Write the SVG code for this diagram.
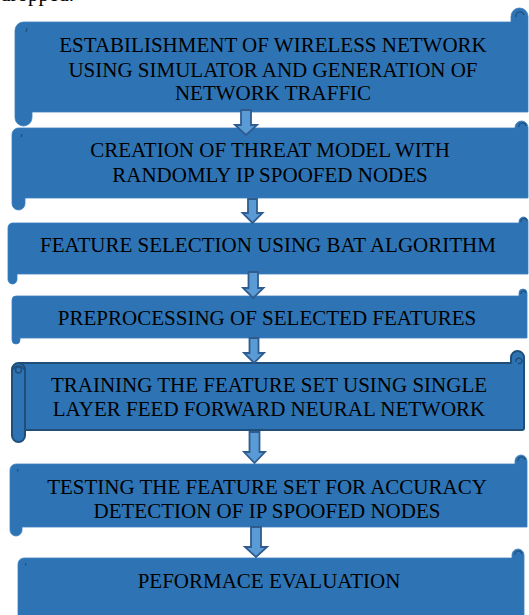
<svg xmlns="http://www.w3.org/2000/svg" width="529" height="615" viewBox="0 0 529 615">
<style>
.box{fill:#2E74B5;stroke:#3A7FC0;stroke-width:0.8}
.curl{fill:none;stroke:#1F4E79;stroke-width:1.2}
.lbl{font-family:"Liberation Serif","Times New Roman",serif;font-size:21px;fill:#000;text-anchor:middle}
.arrow{fill:#5B9BD5;stroke:#2F5C8F;stroke-width:1.8;stroke-linejoin:miter}
</style>
<rect width="529" height="615" fill="#fff"/>
<text x="0" y="1" style="font-family:'Liberation Serif',serif;font-size:21px;fill:#000">dropped.</text>

<g id="node1">
<path class="box" d="M15,30.5 A8.5,8.5 0 0 1 23.5,22 H511 V16.5 A8.5,8.5 0 0 1 528,16.5 V112 H32 V117.5 A8.5,8.5 0 0 1 15,117.5 Z"/>
<path class="curl" d="M516,17 A4,4 0 0 1 524,15"/>
<path class="curl" d="M27,28 l-1,4"/>
<text class="lbl" x="273" y="52">ESTABILISHMENT OF WIRELESS NETWORK</text>
<text class="lbl" x="273" y="77">USING SIMULATOR AND GENERATION OF</text>
<text class="lbl" x="273" y="100">NETWORK TRAFFIC</text>
</g>

<g id="node2">
<path class="box" d="M12,134.5 A6.5,6.5 0 0 1 18.5,128 H515 V127.5 A6.5,6.5 0 0 1 528,127.5 V198 H25 V203.5 A6.5,6.5 0 0 1 12,203.5 Z"/>
<path class="curl" d="M519,127 A3.5,3.5 0 0 1 526,126"/>
<path class="curl" d="M22,134 l-0.8,3"/>
<text class="lbl" x="270" y="157">CREATION OF THREAT MODEL WITH</text>
<text class="lbl" x="270" y="182">RANDOMLY IP SPOOFED NODES</text>
</g>

<g id="node3">
<path class="box" d="M8,227.5 A4.5,4.5 0 0 1 12.5,223 H519 V221.5 A4.5,4.5 0 0 1 528,221.5 V274 H17 V279.5 A4.5,4.5 0 0 1 8,279.5 Z"/>
<path class="curl" d="M521,222 A3,3 0 0 1 527,221"/>
<text class="lbl" x="268" y="252">FEATURE SELECTION USING BAT ALGORITHM</text>
</g>

<g id="node4">
<path class="box" d="M12,300 A4,4 0 0 1 16,296 H519 V293 A4,4 0 0 1 527,293 V338 H20 V340 A4,4 0 0 1 12,340 Z"/>
<path class="curl" d="M521,294 A2.5,2.5 0 0 1 526,293"/>
<text class="lbl" x="267" y="325">PREPROCESSING OF SELECTED FEATURES</text>
</g>

<g id="node5">
<rect x="18" y="363" width="506" height="67" rx="2" fill="#2E74B5" stroke="#1F4E79" stroke-width="2"/>
<path d="M511,363 V357.5 A6.5,6.5 0 0 1 524,357.5 V370" fill="#2E74B5" stroke="#1F4E79" stroke-width="2"/>
<path d="M516,362 A3,3 0 0 1 521,359 A2,2 0 0 1 518,363" fill="none" stroke="#1F4E79" stroke-width="1.5"/>
<rect x="12" y="363" width="13" height="79" rx="6.5" fill="#2E74B5" stroke="#1F4E79" stroke-width="2"/>
<path d="M13,369.5 A6,6 0 0 1 24,369.5" fill="none" stroke="#1F4E79" stroke-width="1.5"/>
<circle cx="18.5" cy="370" r="3" fill="none" stroke="#1F4E79" stroke-width="1.5"/>
<text class="lbl" x="269" y="392">TRAINING THE FEATURE SET USING SINGLE</text>
<text class="lbl" x="269" y="416">LAYER FEED FORWARD NEURAL NETWORK</text>
</g>

<g id="node6">
<path class="box" d="M10,470 A6,6 0 0 1 16,464 H515 V461 A6,6 0 0 1 527,461 V527 H22 V530 A6,6 0 0 1 10,530 Z"/>
<path class="curl" d="M518,461 A3.5,3.5 0 0 1 525,460"/>
<path class="curl" d="M18,469 l-0.6,2.5"/>
<text class="lbl" x="267" y="494">TESTING THE FEATURE SET FOR ACCURACY</text>
<text class="lbl" x="267" y="518">DETECTION OF IP SPOOFED NODES</text>
</g>

<g id="node7">
<path class="box" d="M18,564 A6,6 0 0 1 24,558 H512 V555 A6,6 0 0 1 524,555 V616 H18 Z"/>
<path class="curl" d="M515,555 A3.5,3.5 0 0 1 522,554"/>
<path class="curl" d="M26,563 l-0.6,2.5"/>
<text class="lbl" x="269" y="588">PEFORMACE EVALUATION</text>
</g>

<g id="connectors">
<path class="arrow" d="M241,110 H251 V125 H257 L246,135 L235,125 H241 Z"/>
<path class="arrow" d="M248,199 H257 V213 H262.5 L252.5,223 L242.5,213 H248 Z"/>
<path class="arrow" d="M248.5,272 H258 V288 H263.5 L253.2,298 L243,288 H248.5 Z"/>
<path class="arrow" d="M249.5,338 H258.5 V353 H264 L254,363 L244,353 H249.5 Z"/>
<path class="arrow" d="M249.5,432 H259.5 V452 H265 L254.5,463 L244,452 H249.5 Z"/>
<path class="arrow" d="M251,527 H261 V547 H267 L256,557 L245,547 H251 Z"/>
</g>
</svg>
